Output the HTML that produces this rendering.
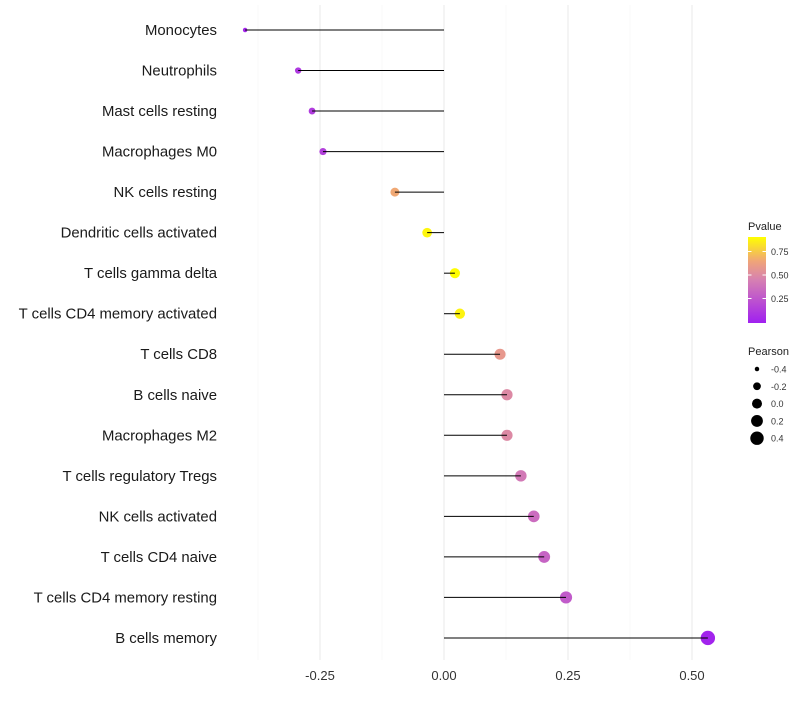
<!DOCTYPE html>
<html><head><meta charset="utf-8"><style>
body{margin:0;background:#fff;font-family:"Liberation Sans",sans-serif;}
</style></head><body>
<svg id="c" width="800" height="700" xmlns="http://www.w3.org/2000/svg"></svg>
<script>
const cells=["Monocytes","Neutrophils","Mast cells resting","Macrophages M0","NK cells resting","Dendritic cells activated","T cells gamma delta","T cells CD4 memory activated","T cells CD8","B cells naive","Macrophages M2","T cells regulatory  Tregs","NK cells activated","T cells CD4 naive","T cells CD4 memory resting","B cells memory"];
const pearson=[-0.401,-0.294,-0.266,-0.244,-0.099,-0.034,0.022,0.032,0.113,0.127,0.127,0.155,0.181,0.202,0.246,0.532];
const pvalue=[0.03,0.12,0.13,0.15,0.66,0.88,0.9,0.87,0.58,0.5,0.5,0.42,0.36,0.32,0.28,0.02];
const xTicks=[-0.25,0,0.25,0.5];
const xTickLabels=["-0.25","0.00","0.25","0.50"];
const xMinor=[-0.375,-0.125,0.125,0.375];
const pTicks=[0.25,0.5,0.75];
const sizeTicks=[-0.4,-0.2,0,0.2,0.4];
const sizeTickLabels=["-0.4","-0.2","0.0","0.2","0.4"];

const svg=document.getElementById('c');
const NS="http://www.w3.org/2000/svg";
function el(t,a,p){const e=document.createElementNS(NS,t);for(const k in a)e.setAttribute(k,a[k]);(p||svg).appendChild(e);return e;}
const x=v=>444+v*496;
const y=i=>30+i*40.53;
const rad=v=>Math.sqrt(Math.max(3,5+50*(v+0.4)));
const stops=[[0,[160,32,240]],[0.5,[214,128,178]],[0.72,[240,165,120]],[1,[255,255,0]]];
function col(p){const t=Math.min(1,Math.max(0,p/0.905));let k=0;while(k<stops.length-2&&t>stops[k+1][0])k++;const a=stops[k],b=stops[k+1];const u=(t-a[0])/(b[0]-a[0]);const c=a[1].map((v,i)=>Math.round(v+(b[1][i]-v)*u));return `rgb(${c})`;}

const grid=el('g',{}); 


xMinor.forEach(v=>el('line',{x1:x(v),x2:x(v),y1:5,y2:660,stroke:'#f3f3f3','stroke-width':0.6},grid));
xTicks.forEach(v=>el('line',{x1:x(v),x2:x(v),y1:5,y2:660,stroke:'#ebebeb','stroke-width':1.1},grid));

xTicks.forEach((v,i)=>{const t=el('text',{x:x(v),y:680,'text-anchor':'middle','font-size':13,fill:'#333'});t.textContent=xTickLabels[i];

});

cells.forEach((c,i)=>{
 const t=el('text',{x:217,y:y(i)+5,'text-anchor':'end','font-size':14.9,fill:'#1a1a1a'});t.textContent=c;
 
 
 const p=el('circle',{cx:x(pearson[i]),cy:y(i),r:rad(pearson[i]),fill:col(pvalue[i])});
 
 
 const s=el('line',{x1:x(0),x2:x(pearson[i]),y1:y(i),y2:y(i),stroke:'#000','stroke-width':1});
 
 
});

const lg=el('g',{});


el('text',{x:748,y:230,'font-size':11,fill:'#222'},lg).textContent='Pvalue';
const defs=el('defs',{});
const gr=el('linearGradient',{id:'pg',x1:0,y1:1,x2:0,y2:0},defs);
[0,0.2,0.4,0.5,0.6,0.72,0.85,1].forEach(o=>el('stop',{offset:o,'stop-color':col(o*0.905)},gr));
el('rect',{x:748,y:237,width:18,height:86,fill:'url(#pg)'},lg);
const py=p=>322-p*94;
pTicks.forEach(p=>{el('line',{x1:748,x2:751.5,y1:py(p),y2:py(p),stroke:'#fff'},lg);el('line',{x1:762.5,x2:766,y1:py(p),y2:py(p),stroke:'#fff'},lg);
 el('text',{x:771,y:py(p)+3.5,'font-size':9,fill:'#333'},lg).textContent=p.toFixed(2);});

const sl=el('g',{});


el('text',{x:748,y:355,'font-size':11,fill:'#222'},sl).textContent='Pearson';
sizeTicks.forEach((v,i)=>{const cy=369+i*17.3;el('circle',{cx:757,cy:cy,r:rad(v),fill:'#000'},sl);
 el('text',{x:771,y:cy+3.5,'font-size':9,fill:'#333'},sl).textContent=sizeTickLabels[i];});
</script>
</body></html>
